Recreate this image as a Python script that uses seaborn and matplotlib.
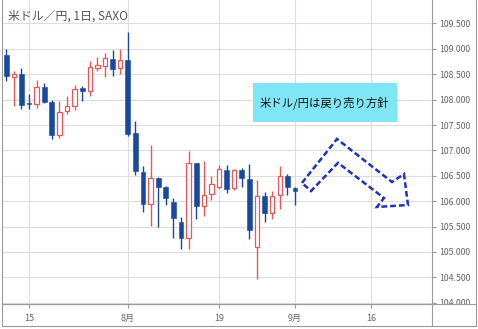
import matplotlib
matplotlib.use("Agg")
import matplotlib.pyplot as plt
import seaborn as sns
import pandas as pd
import numpy as np
from matplotlib.patches import Rectangle, Polygon
from matplotlib.lines import Line2D

# ---------------- data ----------------
dates = ['2019-07-10', '2019-07-11', '2019-07-12', '2019-07-15', '2019-07-16', '2019-07-17',
         '2019-07-18', '2019-07-19', '2019-07-22', '2019-07-23', '2019-07-24', '2019-07-25',
         '2019-07-26', '2019-07-29', '2019-07-30', '2019-07-31', '2019-08-01', '2019-08-02',
         '2019-08-05', '2019-08-06', '2019-08-07', '2019-08-08', '2019-08-09', '2019-08-12',
         '2019-08-13', '2019-08-14', '2019-08-15', '2019-08-16', '2019-08-19', '2019-08-20',
         '2019-08-21', '2019-08-22', '2019-08-23', '2019-08-26', '2019-08-27', '2019-08-28',
         '2019-08-29', '2019-08-30', '2019-09-02']
opens = [108.88, 108.45, 108.51, 107.94, 107.92, 108.24, 107.96, 107.31, 107.78, 107.87,
         108.22, 108.17, 108.63, 108.67, 108.80, 108.62, 108.77, 107.34, 106.57, 105.94,
         106.46, 106.27, 105.99, 105.60, 105.27, 106.75, 105.91, 106.14, 106.28, 106.62,
         106.25, 106.61, 106.44, 105.10, 106.11, 105.77, 106.13, 106.50, 106.26]
highs = [109.00, 108.56, 108.63, 108.11, 108.39, 108.32, 108.00, 107.98, 108.07, 108.28,
         108.26, 108.76, 108.84, 108.92, 108.97, 109.00, 109.34, 107.57, 106.69, 107.11,
         106.47, 106.30, 106.07, 105.69, 106.98, 106.76, 106.79, 106.50, 106.71, 106.71,
         106.63, 106.65, 106.73, 106.41, 106.18, 106.21, 106.69, 106.54, 106.27]
lows = [108.36, 107.88, 107.81, 107.82, 107.84, 107.94, 107.22, 107.25, 107.72, 107.80,
        107.98, 108.07, 108.57, 108.44, 108.47, 108.51, 107.28, 106.52, 105.79, 105.51,
        105.50, 105.92, 105.27, 105.06, 105.05, 105.65, 105.71, 106.03, 106.24, 106.17,
        106.23, 106.27, 105.26, 104.46, 105.59, 105.65, 105.85, 106.13, 105.93]
closes = [108.47, 108.51, 107.89, 107.92, 108.24, 107.95, 107.30, 107.76, 107.88, 108.21,
          108.17, 108.65, 108.69, 108.81, 108.60, 108.77, 107.32, 106.60, 105.94, 106.46,
          106.27, 106.07, 105.67, 105.28, 106.75, 105.91, 106.13, 106.34, 106.63, 106.24,
          106.61, 106.46, 105.44, 106.11, 105.77, 106.11, 106.50, 106.27, 106.21]
tick_dates = ['2019-07-15', '2019-08-01', '2019-08-19', '2019-09-02', '2019-09-16']
tick_labels = ['15', '8月', '19', '9月', '16']
y_ticks = [104.0, 104.5, 105.0, 105.5, 106.0, 106.5, 107.0, 107.5, 108.0, 108.5, 109.0, 109.5]
title = '米ドル／円, 1日, SAXO'
note = '米ドル/円は戻り売り方針'

# ---------------- style ----------------
sns.set_theme(style="white")
plt.rcParams['font.family'] = ['Noto Sans CJK JP', 'DejaVu Sans']

UP = '#e8585a'
DOWN = '#174a9e'
GRID = '#dedede'
FRAME = '#9a9a9a'
TXT = '#666666'

W, H = 478, 329
fig = plt.figure(figsize=(W / 100, H / 100), dpi=100)
ax = fig.add_axes([2 / W, 25 / H, 430 / W, 304 / H])

cal = pd.bdate_range('2019-07-10', '2019-09-30')
df = pd.DataFrame({'date': pd.to_datetime(dates), 'open': opens, 'high': highs,
                   'low': lows, 'close': closes})
df['x'] = cal.get_indexer(df['date'])
df['up'] = df['close'] >= df['open']
df['bottom'] = df[['open', 'close']].min(axis=1)
df['height'] = (df['close'] - df['open']).abs().clip(lower=0.018)

# wicks
for up, col in [(True, UP), (False, DOWN)]:
    d = df[df['up'] == up]
    ax.vlines(d['x'], d['low'], d['high'], color=col, lw=1.0, zorder=2)
# bodies
d = df[~df['up']]
ax.bar(d['x'], d['height'], bottom=d['bottom'], width=0.64, color=DOWN,
       edgecolor=DOWN, linewidth=0.4, zorder=3)
d = df[df['up']]
ax.bar(d['x'], d['height'], bottom=d['bottom'], width=0.58, facecolor='white',
       edgecolor=UP, linewidth=0.9, zorder=3)

# axes scales
ax.set_xlim(-0.553, 56.03)
ax.set_ylim(103.976, 109.961)
tick_pos = cal.get_indexer(pd.to_datetime(tick_dates))
ax.set_xticks(tick_pos)
ax.set_xticklabels(tick_labels)
ax.yaxis.tick_right()
ax.set_yticks(y_ticks)
ax.set_yticklabels([f'{v:.3f}' for v in y_ticks])
ax.tick_params(axis='y', right=True, left=False, length=3, width=0.8, color=FRAME,
               labelcolor=TXT, labelsize=6.3, pad=2)
ax.tick_params(axis='x', bottom=True, length=3, width=0.8, color=FRAME,
               labelcolor=TXT, labelsize=6.5, pad=4)
ax.grid(True, color=GRID, lw=0.8)
ax.set_axisbelow(True)
for s in ['left', 'right', 'bottom']:
    ax.spines[s].set_color(FRAME)
    ax.spines[s].set_linewidth(0.8)
ax.spines['top'].set_visible(False)

# title
ax.text(0.014, 0.947, title, transform=ax.transAxes, ha='left', va='center',
        fontsize=8.6, color='#555555')

# note box
ax.add_patch(Rectangle((0.5837, 0.599), 0.3349, 0.128, transform=ax.transAxes,
                       facecolor='#80e6f6', edgecolor='none', zorder=4))
ax.text(0.751, 0.663, note, transform=ax.transAxes, ha='center', va='center',
        fontsize=8.2, color='#111111', zorder=5)

# dashed bent arrow (annotation, in data coordinates)
arrow_path = [(38.92, 106.36), (43.53, 107.225), (50.76, 106.378), (52.34, 106.535),
              (52.87, 105.925), (48.79, 105.886), (49.71, 106.063), (43.66, 106.755),
              (40.11, 106.20)]
ax.add_patch(Polygon(arrow_path, closed=True, fill=False, edgecolor='#2030bf',
                     linewidth=1.8, linestyle=(0, (2.3, 1.2)), joinstyle='miter', zorder=5))

# frame of the whole chart (bottom strip and right price panel)
def fx(x):
    return x / W

def fy(y):
    return 1 - y / H

fig.add_artist(Rectangle((fx(432.6), fy(325.6)), fx(43), (21 / H), facecolor='white',
                         edgecolor='none', zorder=3))
for (x0, y0, x1, y1) in [(2, 304, 476, 304), (2, 326, 476, 326), (2, 304, 2, 326),
                         (476, 0, 476, 326), (432, 304, 432, 326)]:
    fig.add_artist(Line2D([fx(x0), fx(x1)], [fy(y0), fy(y1)], color=FRAME, lw=0.8, zorder=4))

fig.savefig('out.png', dpi=100)
